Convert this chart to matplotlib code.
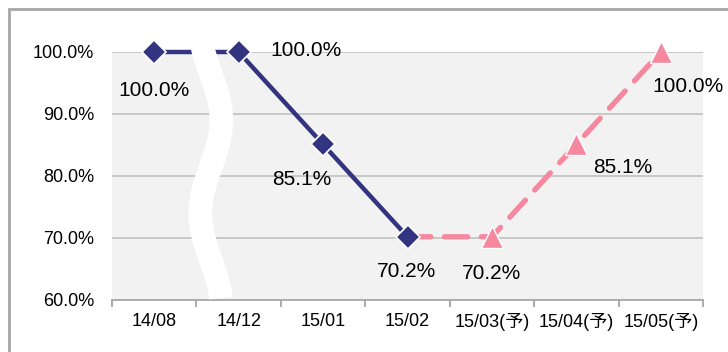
import numpy as np
import matplotlib
matplotlib.use("Agg")
import matplotlib.pyplot as plt
from matplotlib.patches import Rectangle

plt.rcParams['font.family'] = ['Liberation Sans', 'Noto Sans CJK JP', 'DejaVu Sans']

# ---- data ----
categories = ["14/08", "14/12", "15/01", "15/02", "15/03(予)", "15/04(予)", "15/05(予)"]
actual = [100.0, 100.0, 85.1, 70.2, np.nan, np.nan, np.nan]
forecast = [np.nan, np.nan, np.nan, 70.2, 70.2, 85.1, 100.0]
y_ticks = [60, 70, 80, 90, 100]

navy = "#33347F"
pink = "#F5889F"

fig = plt.figure(figsize=(7.28, 3.52), dpi=100)
ax = fig.add_axes([112 / 728, 1 - 300 / 352, (703 - 112) / 728, (300 - 52) / 352])
ax.set_facecolor("#F2F2F2")

x = np.arange(len(categories))
ax.set_xlim(-0.5, len(categories) - 0.5)
ax.set_ylim(60, 100)

# grid lines
for yv in y_ticks[1:]:
    ax.axhline(yv, color="#C4C4C4", lw=1.3, zorder=1)

# forecast (dashed pink) line
ax.plot(x, forecast, color=pink, lw=3.8, ls=(0, (4.4, 2.6)),
        dash_capstyle="round", zorder=3, clip_on=False)
fx = [i for i, v in enumerate(forecast) if not np.isnan(v) and np.isnan(actual[i])]
ax.plot(fx, [forecast[i] for i in fx], ls="none", marker="^", ms=16,
        color=pink, mec="white", mew=1.0, zorder=4, clip_on=False)

# actual (solid navy) line
ax.plot(x, actual, color=navy, lw=3.2, marker="D", ms=12,
        mec="white", mew=1.2, zorder=5, clip_on=False)

# axis break: white wavy band between the first two months
yy = np.linspace(101.2, 60.3, 200)
xx = 0.67 + 0.125 * np.sin(2 * np.pi * (yy - 81.5) / 30)
ax.plot(xx, yy, color="white", lw=17, solid_capstyle="butt", zorder=6, clip_on=False)

# value labels (offsets in pixels)
label_offsets = {
    ("a", 0): (0, -38), ("a", 1): (67, 1), ("a", 2): (-21, -35), ("a", 3): (-1, -35),
    ("f", 4): (0, -37), ("f", 5): (46, -23), ("f", 6): (27, -35),
}
for (s, i), (dx, dy) in label_offsets.items():
    v = actual[i] if s == "a" else forecast[i]
    ax.annotate(f"{v:.1f}%", (x[i], v), xytext=(dx, dy), textcoords="offset pixels",
                ha="center", va="center", fontsize=15, color="black",
                zorder=7, annotation_clip=False)

# axes styling
for side in ("top", "right", "left"):
    ax.spines[side].set_visible(False)
ax.spines["bottom"].set_color("#A6A6A6")
ax.spines["bottom"].set_linewidth(1.3)

ax.set_yticks(y_ticks)
ax.set_yticklabels([f"{v:.1f}%" for v in y_ticks], fontsize=13)
ax.tick_params(axis="y", length=0, pad=13)

ax.set_xticks(x)
ax.set_xticklabels(categories, fontsize=13)
ax.set_xticks(np.arange(-0.5, len(categories)), minor=True)
ax.tick_params(axis="x", which="major", length=0, pad=9)
ax.tick_params(axis="x", which="minor", length=5, color="#A6A6A6", width=1.3)

# outer frame
fig.patches.append(Rectangle((9 / 728, -0.1), 1.2, 1 - 9 / 352 + 0.1,
                             transform=fig.transFigure, fill=False,
                             edgecolor="#A6A6A6", lw=2, zorder=0))

fig.savefig("out.png", dpi=100, facecolor="white")
